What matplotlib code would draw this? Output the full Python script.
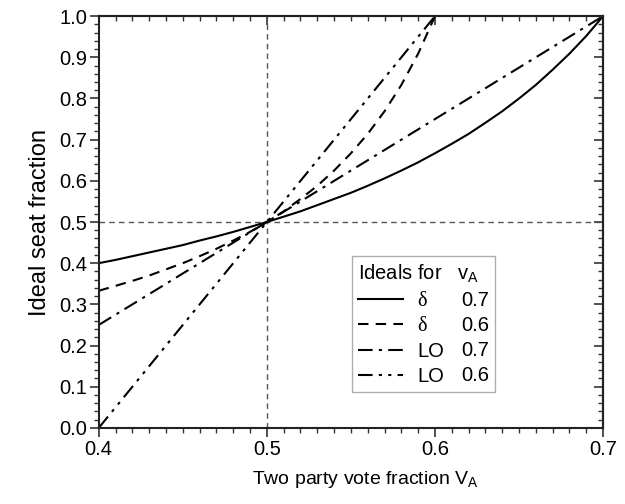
import matplotlib
matplotlib.use("Agg")
import matplotlib.pyplot as plt
from matplotlib.lines import Line2D
from matplotlib.ticker import MultipleLocator, FormatStrFormatter

plt.rcParams["font.family"] = ["Liberation Sans", "DejaVu Sans"]

## Data

# delta ideal, v_A = 0.7
v_d7 = [0.40, 0.41, 0.42, 0.43, 0.44, 0.45, 0.46, 0.47, 0.48, 0.49, 0.50,
        0.51, 0.52, 0.53, 0.54, 0.55, 0.56, 0.57, 0.58, 0.59, 0.60,
        0.61, 0.62, 0.63, 0.64, 0.65, 0.66, 0.67, 0.68, 0.69, 0.70]
s_d7 = [0.400, 0.408, 0.417, 0.426, 0.435, 0.444, 0.455, 0.465, 0.476, 0.488, 0.500,
        0.513, 0.526, 0.541, 0.556, 0.571, 0.588, 0.606, 0.625, 0.645, 0.667,
        0.690, 0.714, 0.741, 0.769, 0.800, 0.833, 0.870, 0.909, 0.952, 1.000]

# delta ideal, v_A = 0.6
v_d6 = [0.40, 0.41, 0.42, 0.43, 0.44, 0.45, 0.46, 0.47, 0.48, 0.49, 0.50,
        0.51, 0.52, 0.53, 0.54, 0.55, 0.56, 0.57, 0.58, 0.59, 0.60]
s_d6 = [0.333, 0.345, 0.357, 0.370, 0.385, 0.400, 0.417, 0.435, 0.455, 0.476, 0.500,
        0.526, 0.556, 0.588, 0.625, 0.667, 0.714, 0.769, 0.833, 0.909, 1.000]

# LO ideal, v_A = 0.7 and 0.6 (straight lines)
v_lo7 = [0.40, 0.50, 0.70]
s_lo7 = [0.25, 0.50, 1.00]
v_lo6 = [0.40, 0.50, 0.60]
s_lo6 = [0.00, 0.50, 1.00]

names = ["\u03b4", "\u03b4", "LO", "LO"]
va_values = ["0.7", "0.6", "0.7", "0.6"]

## Plot

fig = plt.figure(figsize=(6.25, 5.04), dpi=100)
ax = fig.add_axes([0.158, 0.151, 0.807, 0.817])

ax.axvline(0.5, color="#555555", linestyle=(0, (4, 3)), linewidth=1.0)
ax.axhline(0.5, color="#555555", linestyle=(0, (4, 3)), linewidth=1.0)

styles = [
    "-",
    (0, (5, 3.5)),
    (0, (7, 3, 1.5, 3)),
    (0, (7, 3, 1.5, 3, 1.5, 3)),
]
series = [(v_d7, s_d7), (v_d6, s_d6), (v_lo7, s_lo7), (v_lo6, s_lo6)]
handles = []
for (x, y), ls in zip(series, styles):
    ax.plot(x, y, color="black", linestyle=ls, linewidth=1.5)
    handles.append(Line2D([], [], color="black", linestyle=ls, linewidth=1.5))

ax.set_xlim(0.4, 0.7)
ax.set_ylim(0.0, 1.0)
ax.xaxis.set_major_locator(MultipleLocator(0.1))
ax.xaxis.set_minor_locator(MultipleLocator(0.01))
ax.yaxis.set_major_locator(MultipleLocator(0.1))
ax.yaxis.set_minor_locator(MultipleLocator(0.02))
ax.xaxis.set_major_formatter(FormatStrFormatter("%.1f"))
ax.yaxis.set_major_formatter(FormatStrFormatter("%.1f"))

ax.tick_params(which="both", direction="out", labelsize=14.5, color="#333333", pad=2)
ax.tick_params(which="major", length=6.5, width=1.2)
ax.tick_params(which="minor", length=3.5, width=1.0)
for sp in ax.spines.values():
    sp.set_linewidth(1.5)
    sp.set_color("#222222")

# mirrored inward ticks on top and right
top = ax.secondary_xaxis("top")
top.xaxis.set_major_locator(MultipleLocator(0.1))
top.xaxis.set_minor_locator(MultipleLocator(0.01))
top.tick_params(which="both", direction="in", labeltop=False, color="#333333")
top.tick_params(which="major", length=6.5, width=1.2)
top.tick_params(which="minor", length=3.5, width=1.0)
right = ax.secondary_yaxis("right")
right.yaxis.set_major_locator(MultipleLocator(0.1))
right.yaxis.set_minor_locator(MultipleLocator(0.02))
right.tick_params(which="both", direction="in", labelright=False, color="#333333")
right.tick_params(which="major", length=6.5, width=1.2)
right.tick_params(which="minor", length=3.5, width=1.0)
for sec in (top, right):
    for sp in sec.spines.values():
        sp.set_linewidth(1.5)
        sp.set_color("#222222")

ax.set_xlabel("Two party vote fraction V$_\\mathregular{A}$", fontsize=14)
ax.xaxis.set_label_coords(0.528, -0.1)
ax.set_ylabel("Ideal seat fraction", fontsize=17, labelpad=6)

# legend: two columns, second column holds the v_A values
blank = [Line2D([], [], linestyle="none") for _ in va_values]
leg = ax.legend(
    handles + blank,
    names + va_values,
    ncol=2,
    loc="lower left",
    bbox_to_anchor=(0.502, 0.087),
    borderaxespad=0,
    handlelength=2.25,
    handletextpad=0.7,
    columnspacing=-2.1,
    labelspacing=0.3,
    fontsize=14.5,
    title="Ideals for   v$_\\mathregular{A}$",
    title_fontsize=14.5,
    alignment="left",
    frameon=True,
    fancybox=False,
    edgecolor="#999999",
    borderpad=0.3,
)
leg.get_frame().set_linewidth(1.0)
for t in leg.get_texts()[:2]:
    t.set_family(["Liberation Serif", "DejaVu Serif"])

fig.savefig("out.png", dpi=100)
